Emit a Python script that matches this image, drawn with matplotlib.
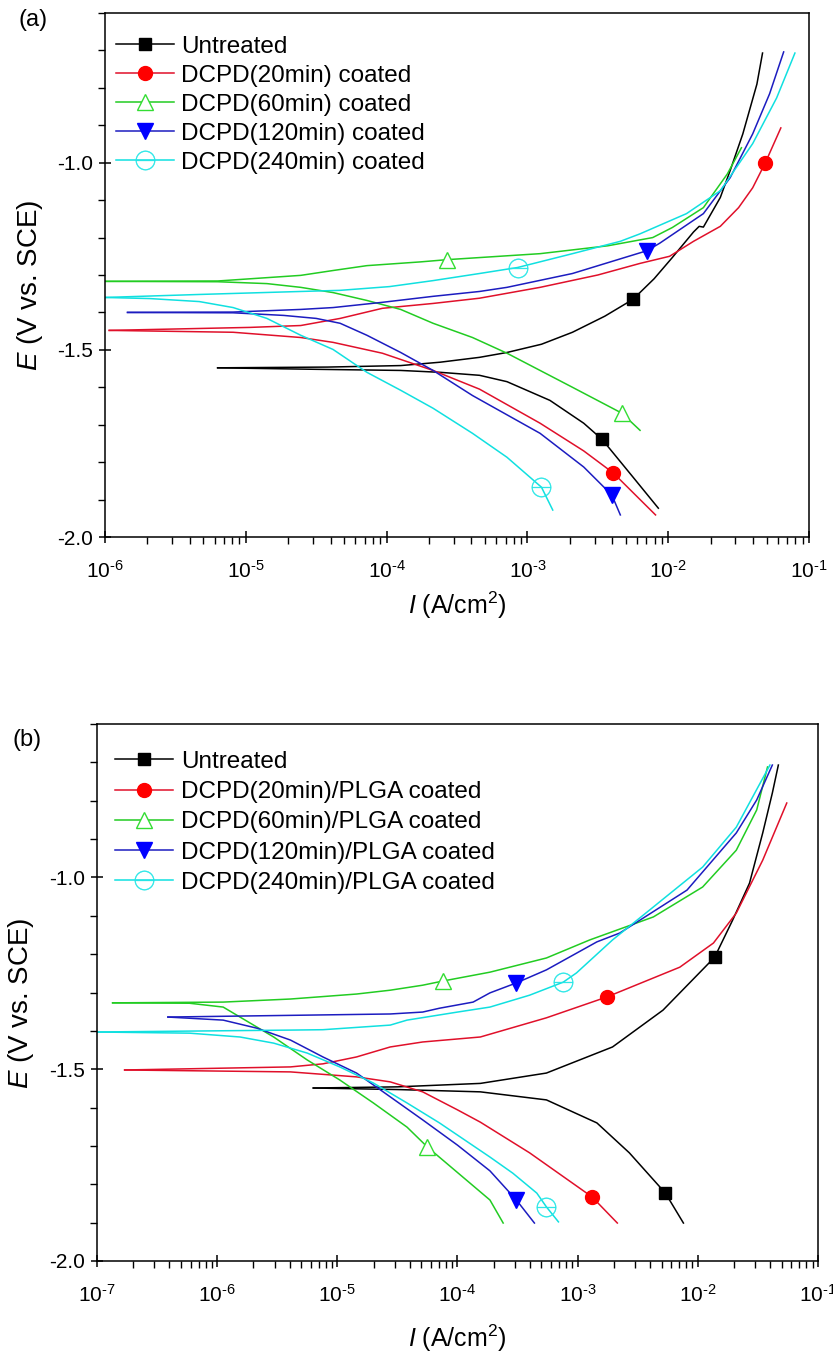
import numpy as np
import matplotlib
matplotlib.use("Agg")
import matplotlib.pyplot as plt
from matplotlib.lines import Line2D
from matplotlib.ticker import (LogLocator, MultipleLocator, FormatStrFormatter,
                               NullFormatter, FuncFormatter)

plt.rcParams['font.family'] = ['Liberation Sans', 'DejaVu Sans']
plt.rcParams['mathtext.fontset'] = 'custom'
plt.rcParams['mathtext.rm'] = 'Liberation Sans'
plt.rcParams['mathtext.it'] = 'Liberation Sans:italic'
plt.rcParams['axes.unicode_minus'] = False

# ---------------- data: panel (a) ----------------
labels_a = ["Untreated", "DCPD(20min) coated", "DCPD(60min) coated",
            "DCPD(120min) coated", "DCPD(240min) coated"]

a_black_an_logI = [-5.2, -4.42, -3.9, -3.62, -3.34, -3.145, -2.9, -2.68, -2.45, -2.25, -2.1, -1.97, -1.82, -1.78, -1.75, -1.63, -1.56, -1.47, -1.37, -1.33]
a_black_an_E = [-1.548, -1.546, -1.542, -1.533, -1.52, -1.507, -1.485, -1.453, -1.41, -1.365, -1.31, -1.253, -1.185, -1.17, -1.172, -1.093, -1.021, -0.923, -0.79, -0.707]
a_black_ca_logI = [-5.2, -4.5, -3.9, -3.62, -3.34, -3.145, -2.84, -2.6, -2.47, -2.25, -2.07]
a_black_ca_E = [-1.548, -1.552, -1.555, -1.56, -1.568, -1.585, -1.635, -1.696, -1.739, -1.84, -1.923]

a_red_an_logI = [-5.97, -4.97, -4.61, -4.33, -4.03, -3.67, -3.34, -2.91, -2.5, -2.2, -1.99, -1.82, -1.63, -1.5, -1.4, -1.31, -1.2]
a_red_an_E = [-1.448, -1.44, -1.435, -1.416, -1.389, -1.376, -1.362, -1.333, -1.3, -1.269, -1.25, -1.21, -1.17, -1.12, -1.067, -1.0, -0.907]
a_red_ca_logI = [-5.97, -5.09, -4.61, -4.38, -4.03, -3.67, -3.34, -2.91, -2.6, -2.39, -2.09]
a_red_ca_E = [-1.448, -1.453, -1.467, -1.48, -1.509, -1.555, -1.605, -1.696, -1.77, -1.829, -1.941]

a_green_an_logI = [-6.0, -5.2, -4.61, -4.38, -4.14, -3.76, -3.57, -2.91, -2.43, -2.11, -1.97, -1.75, -1.58, -1.48]
a_green_an_E = [-1.317, -1.316, -1.301, -1.288, -1.275, -1.265, -1.259, -1.243, -1.222, -1.2, -1.173, -1.12, -1.03, -0.96]
a_green_ca_logI = [-6.0, -5.2, -4.85, -4.61, -4.38, -4.14, -3.9, -3.67, -3.39, -3.145, -2.91, -2.68, -2.33, -2.2]
a_green_ca_E = [-1.317, -1.318, -1.323, -1.333, -1.347, -1.368, -1.392, -1.429, -1.467, -1.509, -1.555, -1.6, -1.669, -1.715]

a_blue_an_logI = [-5.84, -5.09, -4.61, -4.38, -4.03, -3.67, -3.34, -3.145, -2.68, -2.15, -2.06, -1.75, -1.56, -1.4, -1.28, -1.18]
a_blue_an_E = [-1.4, -1.399, -1.392, -1.387, -1.373, -1.357, -1.344, -1.333, -1.296, -1.235, -1.215, -1.136, -1.04, -0.923, -0.816, -0.704]
a_blue_ca_logI = [-5.84, -5.09, -4.73, -4.5, -4.33, -4.14, -3.9, -3.67, -3.39, -2.91, -2.6, -2.4, -2.34]
a_blue_ca_E = [-1.4, -1.401, -1.408, -1.416, -1.429, -1.461, -1.507, -1.555, -1.622, -1.723, -1.813, -1.888, -1.941]

a_cyan_an_logI = [-6.0, -5.33, -4.61, -4.33, -3.98, -3.67, -3.34, -3.07, -2.68, -2.34, -2.2, -1.87, -1.63, -1.4, -1.23, -1.1]
a_cyan_an_E = [-1.36, -1.352, -1.344, -1.341, -1.331, -1.315, -1.296, -1.28, -1.243, -1.21, -1.19, -1.136, -1.075, -0.949, -0.827, -0.707]
a_cyan_ca_logI = [-6.0, -5.68, -5.33, -5.09, -4.85, -4.61, -4.38, -4.14, -3.9, -3.67, -3.39, -3.145, -2.9, -2.82]
a_cyan_ca_E = [-1.36, -1.363, -1.371, -1.387, -1.416, -1.461, -1.499, -1.56, -1.608, -1.656, -1.723, -1.787, -1.867, -1.928]

# marker positions (upper, lower) per series
a_mark_logI = [[-2.25, -2.47], [-1.31, -2.39], [-3.57, -2.33], [-2.15, -2.4], [-3.07, -2.9]]
a_mark_E = [[-1.365, -1.739], [-1.0, -1.829], [-1.259, -1.669], [-1.235, -1.888], [-1.28, -1.867]]

# ---------------- data: panel (b) ----------------
labels_b = ["Untreated", "DCPD(20min)/PLGA coated", "DCPD(60min)/PLGA coated",
            "DCPD(120min)/PLGA coated", "DCPD(240min)/PLGA coated"]

b_black_an_logI = [-5.2, -4.5, -3.81, -3.26, -2.71, -2.29, -1.86, -1.71, -1.57, -1.46, -1.38, -1.33]
b_black_an_E = [-1.549, -1.546, -1.537, -1.51, -1.442, -1.346, -1.208, -1.111, -1.015, -0.884, -0.78, -0.707]
b_black_ca_logI = [-5.2, -4.5, -3.81, -3.26, -2.84, -2.57, -2.27, -2.12]
b_black_ca_E = [-1.549, -1.553, -1.559, -1.58, -1.64, -1.718, -1.823, -1.901]

b_red_an_logI = [-6.77, -5.39, -5.12, -4.84, -4.56, -4.29, -3.81, -3.26, -2.76, -2.15, -1.87, -1.68, -1.46, -1.26]
b_red_an_E = [-1.502, -1.494, -1.486, -1.468, -1.442, -1.429, -1.416, -1.366, -1.312, -1.234, -1.171, -1.093, -0.955, -0.806]
b_red_ca_logI = [-6.77, -5.39, -4.84, -4.56, -4.29, -4.0, -3.81, -3.4, -2.88, -2.67]
b_red_ca_E = [-1.502, -1.507, -1.52, -1.533, -1.559, -1.606, -1.638, -1.718, -1.833, -1.901]

b_green_an_logI = [-6.87, -5.95, -5.39, -4.84, -4.56, -4.29, -4.12, -3.73, -3.26, -2.9, -2.37, -1.96, -1.68, -1.51, -1.42]
b_green_an_E = [-1.327, -1.325, -1.317, -1.304, -1.294, -1.281, -1.27, -1.247, -1.21, -1.163, -1.103, -1.025, -0.929, -0.824, -0.712]
b_green_ca_logI = [-6.87, -6.23, -5.95, -5.81, -5.53, -5.25, -4.98, -4.7, -4.42, -4.25, -3.73, -3.62]
b_green_ca_E = [-1.327, -1.328, -1.338, -1.364, -1.416, -1.476, -1.528, -1.588, -1.651, -1.703, -1.841, -1.901]

b_blue_an_logI = [-6.41, -4.56, -4.29, -4.15, -3.87, -3.73, -3.51, -3.26, -2.84, -2.65, -2.09, -1.68, -1.51, -1.38]
b_blue_an_E = [-1.364, -1.356, -1.351, -1.341, -1.325, -1.301, -1.275, -1.241, -1.168, -1.145, -1.033, -0.884, -0.798, -0.707]
b_blue_ca_logI = [-6.41, -5.95, -5.67, -5.39, -5.12, -4.84, -4.56, -4.29, -4.0, -3.73, -3.51, -3.36]
b_blue_ca_E = [-1.364, -1.372, -1.393, -1.424, -1.468, -1.51, -1.572, -1.632, -1.698, -1.765, -1.841, -1.901]

b_cyan_an_logI = [-7.0, -5.39, -5.12, -4.56, -4.42, -4.0, -3.73, -3.4, -3.12, -3.01, -2.71, -2.37, -1.96, -1.68, -1.4]
b_cyan_an_E = [-1.403, -1.398, -1.397, -1.385, -1.372, -1.351, -1.338, -1.307, -1.273, -1.249, -1.163, -1.077, -0.973, -0.869, -0.707]
b_cyan_ca_logI = [-7.0, -6.23, -5.81, -5.53, -5.25, -4.98, -4.7, -4.42, -4.15, -3.73, -3.54, -3.34, -3.26, -3.16]
b_cyan_ca_E = [-1.403, -1.406, -1.416, -1.432, -1.458, -1.494, -1.536, -1.588, -1.64, -1.729, -1.771, -1.823, -1.859, -1.898]

b_mark_logI = [[-1.86, -2.27], [-2.76, -2.88], [-4.12, -4.25], [-3.51, -3.51], [-3.12, -3.26]]
b_mark_E = [[-1.208, -1.823], [-1.312, -1.833], [-1.27, -1.703], [-1.275, -1.841], [-1.273, -1.859]]

# ---------------- styles ----------------
line_colors = ['#000000', '#e0102a', '#22cc22', '#1c1cc0', '#10e0e0']
mark_styles = [
    dict(marker='s', ms=8, mfc='#000000', mec='#000000', mew=1),
    dict(marker='o', ms=10, mfc='#ff0000', mec='#ff0000', mew=1),
    dict(marker='^', ms=11, mfc='white', mec='#33dd33', mew=1),
    dict(marker='v', ms=11, mfc='#0000ff', mec='#0000ff', mew=1),
    dict(marker='$\\ominus$', ms=14, mfc='#22e6e6', mec='#22e6e6', mew=0.3),
]

fig = plt.figure(figsize=(8.33, 13.59), dpi=100)
W, H = 833, 1359


def log_label(v, pos):
    e = int(round(np.log10(v)))
    if e < 0:
        return '$\\mathregular{10^{\\text{-}%d}}$' % (-e)
    return '$\\mathregular{10^{%d}}$' % e


def panel(rect, series, marks_logI, marks_E, labels, xlim, legend_anchor,
          xlabel_y, ylabel_x, lspacing):
    ax = fig.add_axes(rect)
    for i, (an_x, an_y, ca_x, ca_y) in enumerate(series):
        c = line_colors[i]
        ax.plot(10 ** np.array(an_x), an_y, color=c, lw=1.1, zorder=2)
        ax.plot(10 ** np.array(ca_x), ca_y, color=c, lw=1.1, zorder=2)
        ax.plot(10 ** np.array(marks_logI[i]), marks_E[i], ls='none', zorder=3,
                **mark_styles[i])
    ax.set_xscale('log')
    ax.set_xlim(*xlim)
    ax.set_ylim(-2.0, -0.6)
    ax.xaxis.set_major_locator(LogLocator(base=10, numticks=20))
    ax.xaxis.set_major_formatter(FuncFormatter(log_label))
    ax.xaxis.set_minor_locator(LogLocator(base=10, subs=np.arange(2, 10), numticks=20))
    ax.xaxis.set_minor_formatter(NullFormatter())
    ax.yaxis.set_major_locator(MultipleLocator(0.5))
    ax.yaxis.set_minor_locator(MultipleLocator(0.1))
    ax.yaxis.set_major_formatter(FormatStrFormatter('%.1f'))
    ax.tick_params(which='major', direction='inout', length=9, width=1.1,
                   labelsize=15, top=False, right=False)
    ax.tick_params(axis='x', which='major', pad=12)
    ax.tick_params(axis='y', which='major', pad=4)
    ax.tick_params(which='minor', direction='out', length=5, width=1.0,
                   top=False, right=False)
    for s in ax.spines.values():
        s.set_linewidth(1.1)
    ax.set_xlabel('$\\it{I}$ (A/cm$^2$)', fontsize=18)
    ax.set_ylabel('$\\it{E}$ (V vs. SCE)', fontsize=20)
    ax.xaxis.set_label_coords(0.5, xlabel_y)
    ax.yaxis.set_label_coords(ylabel_x, 0.48)
    handles = []
    for i in range(5):
        handles.append(Line2D([0], [0], color=line_colors[i], lw=1.1, **mark_styles[i]))
    ax.legend(handles, labels, loc='upper left', bbox_to_anchor=legend_anchor,
              frameon=False, fontsize=17.5, handlelength=2.4, handletextpad=0.3,
              labelspacing=lspacing, borderaxespad=0, borderpad=0, numpoints=1)
    return ax


series_a = [
    (a_black_an_logI, a_black_an_E, a_black_ca_logI, a_black_ca_E),
    (a_red_an_logI, a_red_an_E, a_red_ca_logI, a_red_ca_E),
    (a_green_an_logI, a_green_an_E, a_green_ca_logI, a_green_ca_E),
    (a_blue_an_logI, a_blue_an_E, a_blue_ca_logI, a_blue_ca_E),
    (a_cyan_an_logI, a_cyan_an_E, a_cyan_ca_logI, a_cyan_ca_E),
]
series_b = [
    (b_black_an_logI, b_black_an_E, b_black_ca_logI, b_black_ca_E),
    (b_red_an_logI, b_red_an_E, b_red_ca_logI, b_red_ca_E),
    (b_green_an_logI, b_green_an_E, b_green_ca_logI, b_green_ca_E),
    (b_blue_an_logI, b_blue_an_E, b_blue_ca_logI, b_blue_ca_E),
    (b_cyan_an_logI, b_cyan_an_E, b_cyan_ca_logI, b_cyan_ca_E),
]

ax_a = panel([105 / W, 1 - 537 / H, (809 - 105) / W, (537 - 13) / H],
             series_a, a_mark_logI, a_mark_E, labels_a, (1e-6, 1e-1), (0.015, 0.957),
             -0.1, -0.085, 0.29)
ax_b = panel([97 / W, 1 - 1261 / H, (818 - 97) / W, (1261 - 724) / H],
             series_b, b_mark_logI, b_mark_E, labels_b, (1e-7, 1e-1), (0.025, 0.95),
             -0.115, -0.085, 0.34)

fig.text(18 / W, 1 - 20 / H, '(a)', fontsize=17, ha='left', va='center')
fig.text(12 / W, 1 - 740 / H, '(b)', fontsize=17, ha='left', va='center')

fig.savefig('out.png', dpi=100)
